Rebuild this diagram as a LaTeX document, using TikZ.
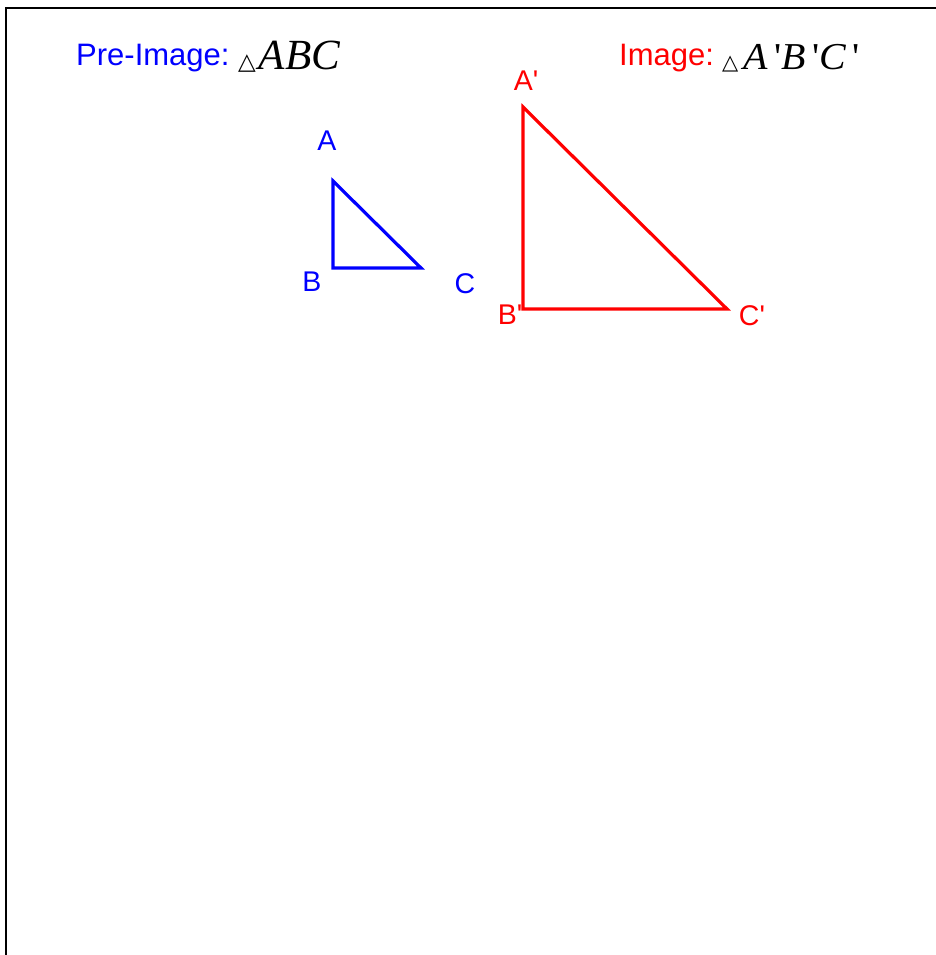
\documentclass[tikz,border=0pt]{standalone}
\usepackage{fontspec}
\setmainfont{Liberation Sans}[Ligatures=TeXOff]
\newfontfamily\timesfont{Liberation Serif}[Ligatures=TeXOff]
\newfontfamily\timeswide{Liberation Serif}[Ligatures=TeXOff,FakeStretch=1.05]
\newfontfamily\symfont{DejaVu Sans}
\definecolor{pblue}{RGB}{0,0,255}
\definecolor{pred}{RGB}{255,0,0}
\begin{document}
\begin{tikzpicture}[x=1pt,y=-1pt,
  lbl/.style={inner sep=0pt,font=\fontsize{28.5}{32}\selectfont},
  head/.style={inner sep=0pt,anchor=base west,font=\fontsize{31}{36}\selectfont},
  mathlbl/.style={inner sep=0pt,anchor=base west},
  tri/.style={line width=3.2pt,line join=miter}]
\useasboundingbox (0,0) rectangle (936,955);
\coordinate (fb) at (6,956);
\coordinate (fc) at (6,8.5);
\coordinate (fr) at (937,8.5);
\draw[line width=2pt] (fb) -- (fc) -- (fr);
% headers
\node[head,text=pblue] (pre) at (76,66) {Pre-Image:};
\node[mathlbl] (pretri) at (238,70) {{\symfont\fontsize{23}{23}\selectfont △}\hspace{3pt}\timesfont\itshape\fontsize{43}{48}\selectfont ABC};
\node[head,text=pred] (img) at (619,66) {Image:};
\node[mathlbl] (imgtri) at (722,70) {{\symfont\fontsize{21}{21}\selectfont △}\hspace{5pt}\timeswide\fontsize{38}{44}\selectfont\textit{A}\,'\textit{B}\,'\textit{C}\,'};
% blue triangle
\coordinate (A) at (333,181);
\coordinate (B) at (333,268);
\coordinate (C) at (421,268);
\draw[tri,pblue] (A) -- (B) -- (C) -- cycle;
\node[lbl,text=pblue] (lA) at (327,141) {A};
\node[lbl,text=pblue] (lB) at (312,282) {B};
\node[lbl,text=pblue] (lC) at (465,284) {C};
% red triangle
\coordinate (A2) at (523,107);
\coordinate (B2) at (523,309);
\coordinate (C2) at (727,309);
\draw[tri,pred] (A2) -- (B2) -- (C2) -- cycle;
\node[lbl,text=pred] (lA2) at (526,81) {A'};
\node[lbl,text=pred] (lB2) at (510,315) {B'};
\node[lbl,text=pred] (lC2) at (752,316) {C'};
\end{tikzpicture}
\end{document}
